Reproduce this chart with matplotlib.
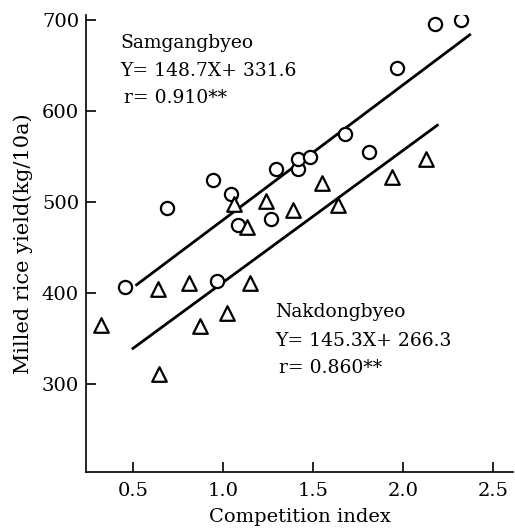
import matplotlib
matplotlib.use("Agg")
import matplotlib.pyplot as plt
import numpy as np

plt.rcParams['font.family'] = ['DejaVu Serif']

# Samgangbyeo (circles)
samg_x = [0.457, 0.687, 0.943, 0.967, 1.044, 1.082, 1.265, 1.294, 1.415, 1.418,
          1.483, 1.68, 1.813, 1.968, 2.176, 2.324]
samg_y = [406, 494, 524, 413, 509, 475, 481, 536, 536, 547,
          550, 575, 555, 648, 696, 700]

# Nakdongbyeo (triangles)
nak_x = [0.322, 0.639, 0.643, 0.809, 0.872, 1.02, 1.059, 1.135, 1.15, 1.237,
         1.387, 1.548, 1.639, 1.941, 2.126]
nak_y = [365, 404, 311, 411, 364, 378, 498, 473, 411, 501,
         491, 521, 497, 528, 547]

# regression lines
samg_fit = (148.7, 331.6, 0.52, 2.37)
nak_fit = (145.3, 266.3, 0.50, 2.19)

fig = plt.figure(figsize=(5.15, 5.32), dpi=100)
ax = fig.add_axes([0.167, 0.113, 0.829, 0.859])

ax.scatter(samg_x, samg_y, s=90, marker='o', facecolors='white',
           edgecolors='black', linewidths=1.6, zorder=3)
ax.scatter(nak_x, nak_y, s=110, marker='^', facecolors='white',
           edgecolors='black', linewidths=1.6, zorder=3)

for a, b, x0, x1 in [samg_fit, nak_fit]:
    xs = np.array([x0, x1])
    ax.plot(xs, a * xs + b, color='black', lw=2)

ax.set_xlim(0.239, 2.61)
ax.set_ylim(203, 706)
ax.set_xticks([0.5, 1.0, 1.5, 2.0, 2.5])
ax.set_xticklabels(['0.5', '1.0', '1.5', '2.0', '2.5'])
ax.set_yticks([300, 400, 500, 600, 700])
ax.tick_params(direction='in', length=7, width=1.2, labelsize=14, pad=5)
ax.tick_params(axis='x', pad=7)
ax.spines['top'].set_visible(False)
ax.spines['right'].set_visible(False)
ax.spines['left'].set_linewidth(1.2)
ax.spines['bottom'].set_linewidth(1.2)

ax.set_xlabel('Competition index', fontsize=14, labelpad=6)
ax.set_ylabel('Milled rice yield(kg/10a)', fontsize=15, labelpad=6)

ax.text(0.43, 670, 'Samgangbyeo', fontsize=13.5)
ax.text(0.43, 639, 'Y= 148.7X+ 331.6', fontsize=13.5)
ax.text(0.45, 609, 'r= 0.910**', fontsize=13.5)

ax.text(1.29, 373, 'Nakdongbyeo', fontsize=13.5)
ax.text(1.29, 342, 'Y= 145.3X+ 266.3', fontsize=13.5)
ax.text(1.31, 312, 'r= 0.860**', fontsize=13.5)

fig.savefig('out.png')
